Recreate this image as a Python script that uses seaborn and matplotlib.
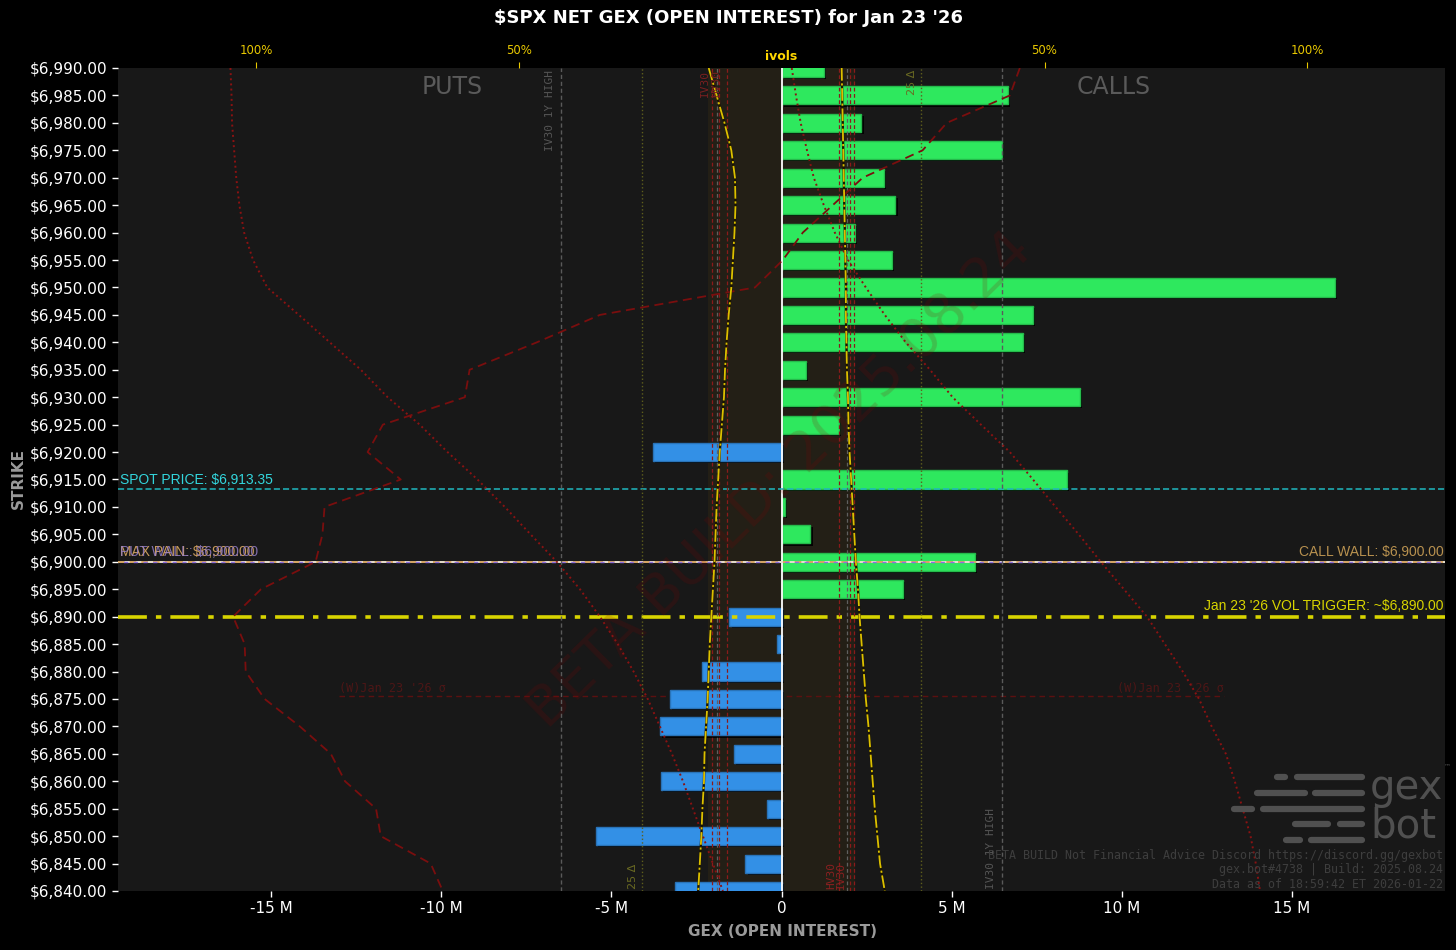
import numpy as np
import pandas as pd
import matplotlib
matplotlib.use("Agg")
import matplotlib.pyplot as plt
import seaborn as sns
from matplotlib import patheffects as pe
from matplotlib.transforms import blended_transform_factory
from matplotlib.patches import Rectangle
from matplotlib.lines import Line2D

# ---------------- data ----------------
strikes = list(range(6990, 6835, -5))
gex_m = [1.26, 6.65, 2.35, 6.47, 3.00, 3.35, 2.15, 3.24, 16.26, 7.38, 7.09, 0.71,
         8.76, 1.68, -3.79, 8.38, 0.09, 0.85, 5.68, 3.56, -1.53, -0.12, -2.35,
         -3.29, -3.56, -1.41, -3.53, -0.44, -5.44, -1.06, -3.12]

# implied vols per strike (percent), puts drawn mirrored on the left
put_iv = [13.9, 12.4, 10.9, 9.6, 8.9, 8.8, 9.0, 9.3, 9.6, 10.1, 10.5, 10.8, 11.0,
          11.4, 11.8, 12.1, 12.4, 12.6, 12.8, 13.1, 13.4, 13.7, 13.9, 14.1, 14.4,
          14.7, 14.8, 15.1, 15.3, 15.6, 15.9]
call_iv = [11.4, 11.5, 11.6, 11.7, 11.8, 11.9, 12.0, 12.1, 12.2, 12.2, 12.3, 12.4,
           12.6, 12.7, 12.9, 13.2, 13.5, 13.8, 14.1, 14.5, 14.8, 15.2, 15.6, 16.0,
           16.5, 16.9, 17.3, 17.7, 18.2, 18.7, 19.6]
ref_dashed = [45.3, 43.4, 31.4, 26.8, 15.4, 9.7, 4.0, 0.2, -5.1, -34.6, -46.6,
              -59.4, -60.3, -75.9, -78.8, -72.5, -87.0, -87.4, -88.7, -99.1,
              -104.4, -102.2, -102.0, -98.4, -91.7, -85.8, -83.1, -77.2, -76.3,
              -66.8, -64.5]
put_dotted = [-104.9, -104.7, -104.6, -104.2, -103.8, -103.2, -102.3, -100.6,
              -97.9, -91.9, -86.0, -80.1, -75.0, -68.9, -63.6, -57.9, -52.7,
              -47.8, -42.8, -38.4, -34.6, -31.2, -28.2, -25.5, -23.2, -20.9,
              -18.8, -16.9, -15.0, -13.1, -11.2]
call_dotted = [1.9, 2.7, 3.6, 4.8, 6.1, 8.0, 10.1, 12.6, 16.0, 19.6, 23.6, 28.2,
               32.5, 37.9, 43.4, 47.8, 52.1, 56.5, 60.7, 65.1, 69.5, 72.9, 76.3,
               79.4, 81.8, 84.5, 86.2, 87.7, 89.2, 90.2, 91.0]

spot = 6913.35
wall = 6900.0
vol_trigger = 6890.0
sigma_low = 6875.5
sigma_span_m = 13.0
iv30_1y_high = 42.0
delta25 = 26.5
iv_band = 14.0
iv_lines_red = [-13.3, -12.0, -10.5, 10.8, 12.9, 13.7]
iv_lines_grey = [-12.4, 12.4]

gex_ticks = [-15, -10, -5, 0, 5, 10, 15]
gex_tick_labels = ["-15 M", "-10 M", "-5 M", "0", "5 M", "10 M", "15 M"]
ivol_ticks = [-100, -50, 50, 100]
ivol_tick_labels = ["100%", "50%", "50%", "100%"]
strike_labels = [f"${s:,.2f}" for s in strikes]

# ---------------- figure ----------------
sns.set_style("dark")
plt.rcParams["font.family"] = ["DejaVu Sans"]
W, H = 1456, 950
fig = plt.figure(figsize=(W / 100, H / 100), dpi=100, facecolor="black")


def fp(x, y):
    return x / W, 1 - y / H


ax = fig.add_axes([118 / W, 1 - 891 / H, 1327 / W, 823 / H])
ax.set_facecolor("#181818")
ax.grid(False)

df = pd.DataFrame({"strike": strikes, "gex": gex_m})
df["side"] = np.where(df["gex"] >= 0, "call", "put")
sns.barplot(data=df, x="gex", y="strike", hue="side",
            palette={"call": "#2ee85e", "put": "#3390e6"}, orient="y",
            native_scale=True, width=0.66, dodge=False, legend=False,
            errorbar=None, saturation=1, ax=ax, zorder=3)
for p in ax.patches:
    fc = p.get_facecolor()
    p.set_edgecolor((fc[0] * 0.8, fc[1] * 0.8, fc[2] * 0.8, 1))
    p.set_linewidth(1.0)
    p.set_path_effects([pe.SimplePatchShadow(offset=(1.5, -1.5), shadow_rgbFace="black", alpha=0.9),
                        pe.Normal()])

ax.set_xlim(-19.5, 19.5)
ax.set_ylim(6840, 6990)
ax.set_yticks(strikes)
ax.set_yticklabels(strike_labels)
ax.set_xticks(gex_ticks)
ax.set_xticklabels(gex_tick_labels)
ax.tick_params(axis="both", colors="white", labelsize=11, length=4, width=1,
               bottom=True, left=True)
ax.set_xlabel("")
ax.set_ylabel("")
for s in ax.spines.values():
    s.set_visible(False)

# ivol axis
ax2 = ax.twiny()
ax2.set_xlim(-126.3, 126.2)
ax2.set_ylim(6840, 6990)
ax2.grid(False)
for s in ax2.spines.values():
    s.set_visible(False)
ax2.set_xticks(ivol_ticks)
ax2.set_xticklabels(ivol_tick_labels)
ax2.tick_params(axis="x", colors="#e8c800", labelsize=8.5, length=4, pad=4)
ax2.text(0.5, 1.006, "ivols", transform=ax2.transAxes, ha="center", va="bottom",
         fontsize=9, weight="bold", color="#ffd700")

# shaded implied-move band (behind bars)
band_tr = blended_transform_factory(ax2.transData, ax.transAxes)
ax.add_patch(Rectangle((-iv_band, 0), 2 * iv_band, 1, transform=band_tr,
                       facecolor="#231f16", edgecolor="none", zorder=0.5))

# vertical reference lines
for x in iv_lines_red:
    ax2.axvline(x, color="#8b1a1a", ls=(0, (3, 2)), lw=0.9)
for x in iv_lines_grey:
    ax2.axvline(x, color="#606060", ls=(0, (3, 2)), lw=0.9)
for x in (-iv30_1y_high, iv30_1y_high):
    ax2.axvline(x, color="#5a5a5a", ls=(0, (3, 2)), lw=1.0)
for x in (-delta25, delta25):
    ax2.axvline(x, color="#5e5e1c", ls=":", lw=1.0)

mono = "DejaVu Sans Mono"
ax2.text(-iv30_1y_high - 1.2, 6989.6, "IV30 1Y HIGH", rotation=90, ha="right", va="top",
         fontsize=8, color="#555555", family=mono)
ax2.text(iv30_1y_high - 1.2, 6840.3, "IV30 1Y HIGH", rotation=90, ha="right", va="bottom",
         fontsize=8, color="#555555", family=mono)
ax2.text(-13.6, 6989.6, "IV30", rotation=90, ha="right", va="top", fontsize=8,
         color="#7a2020", family=mono)
ax2.text(-11.6, 6989.6, "HV30", rotation=90, ha="right", va="top", fontsize=8,
         color="#7a2020", family=mono)
ax2.text(10.4, 6840.3, "HV30", rotation=90, ha="right", va="bottom", fontsize=8,
         color="#8b2020", family=mono)
ax2.text(12.2, 6840.3, "IV30", rotation=90, ha="right", va="bottom", fontsize=8,
         color="#8b2020", family=mono)
ax2.text(delta25 - 0.8, 6989.6, "25 Δ", rotation=90, ha="right", va="top", fontsize=8,
         color="#6a6a22")
ax2.text(-delta25 - 0.8, 6840.3, "25 Δ", rotation=90, ha="right", va="bottom", fontsize=8,
         color="#6a6a22")

# curves
ax2.plot(ref_dashed, strikes, color="#7a0e0e", ls=(0, (5, 3)), lw=1.3)
ax2.plot(put_dotted, strikes, color="#8b1212", ls=":", lw=1.4)
ax2.plot(call_dotted, strikes, color="#8b1212", ls=":", lw=1.4)
for iv in (-np.array(put_iv), np.array(call_iv)):
    ax2.plot(iv, strikes, color="#1a1500", lw=1.7)
    ax2.plot(iv, strikes, color="#dcc000", ls=(0, (7, 1.5, 1.2, 1.5)), lw=1.3)

# center line
ax.axvline(0, color="white", lw=1.3, zorder=4)

# horizontal levels
lab = "Liberation Sans"
ax.axhline(spot, color="#1fb8c0", ls=(0, (4, 2)), lw=1.1, zorder=5)
ax.text(-19.45, spot + 0.3, "SPOT PRICE: $6,913.35", ha="left", va="bottom",
        fontsize=10, color="#33d6dd", family=lab, zorder=6)

ax.axhline(wall, color="#e8e0d0", lw=1.4, zorder=5)
ax.axhline(wall, color="#d09a50", ls=(0, (4, 3)), lw=1.2, zorder=5)
ax.axhline(wall, color="#9070e0", ls=(3, (3, 4)), lw=1.0, zorder=5)
ax.text(-19.45, wall + 0.5, "MAX PAIN: $6,900.00", ha="left", va="bottom",
        fontsize=10, color="#c89a5a", family=lab, zorder=6)
ax.text(-19.45, wall + 0.5, "PUT WALL: $6,900.00", ha="left", va="bottom",
        fontsize=10, color="#9a82d0", family=lab, zorder=6, alpha=0.8)
ax.text(19.45, wall + 0.5, "CALL WALL: $6,900.00", ha="right", va="bottom",
        fontsize=10, color="#b8914f", family=lab, zorder=6)

ax.axhline(vol_trigger, color="#d8d400", ls=(0, (8, 2.5, 1.5, 2.5)), lw=2.6, zorder=5)
ax.text(19.45, vol_trigger + 0.6, "Jan 23 '26 VOL TRIGGER: ~$6,890.00", ha="right",
        va="bottom", fontsize=10, color="#d8d400", family=lab, zorder=6)

ax.hlines(sigma_low, -sigma_span_m, sigma_span_m, colors="#5c1010",
          linestyles=(0, (4, 3)), lw=1.0, zorder=2)
ax.text(-sigma_span_m, sigma_low + 0.3, "(W)Jan 23 '26 σ", ha="left", va="bottom",
        fontsize=8.5, color="#4d1616", family=mono, zorder=2)
ax.text(sigma_span_m, sigma_low + 0.3, "(W)Jan 23 '26 σ", ha="right", va="bottom",
        fontsize=8.5, color="#4d1616", family=mono, zorder=2)

# PUTS / CALLS
ax.text(0.2517, 0.977, "PUTS", transform=ax.transAxes, ha="center", va="center",
        fontsize=17, color="#5a5a5a")
ax.text(0.7506, 0.977, "CALLS", transform=ax.transAxes, ha="center", va="center",
        fontsize=17, color="#5a5a5a")

# watermark
ax2.text(0.499, 0.4994, "BETA BUILD: 2025.08.24", transform=ax.transAxes,
         rotation=44.5, fontsize=40, color="#8b0000", alpha=0.17, ha="center",
         va="center", zorder=1)

# titles
fig.text(*fp(728, 18), "$SPX NET GEX (OPEN INTEREST) for Jan 23 '26", ha="center",
         va="center", fontsize=13, weight="bold", color="white")
fig.text(*fp(782, 932), "GEX (OPEN INTEREST)", ha="center", va="center",
         fontsize=11, weight="bold", color="#9a9a9a")
fig.text(*fp(18, 479), "STRIKE", ha="center", va="center", rotation=90,
         fontsize=11, weight="bold", color="#9a9a9a")

# logo
logo_c = "#505050"
segs = [(777, [(1277, 1285), (1297, 1362)]),
        (793, [(1257, 1305), (1315, 1362)]),
        (809, [(1234, 1252), (1263, 1362)]),
        (824, [(1295, 1328), (1340, 1362)]),
        (840, [(1286, 1300), (1311, 1362)])]
for yy, pieces in segs:
    for x0, x1 in pieces:
        (fx0, fy), (fx1, _) = fp(x0, yy), fp(x1, yy)
        fig.add_artist(Line2D([fx0, fx1], [fy, fy], color=logo_c, lw=4.5,
                              solid_capstyle="round"))
fig.text(*fp(1370, 788), "gex", ha="left", va="center", fontsize=29, color=logo_c)
fig.text(*fp(1370, 826), "bot", ha="left", va="center", fontsize=29, color=logo_c)
fig.text(*fp(1444, 766), "™", ha="left", va="center", fontsize=5, color=logo_c)

foot_c = "#3e3e3e"
fig.text(*fp(1443, 855), "BETA BUILD Not Financial Advice Discord https://discord.gg/gexbot",
         ha="right", va="center", fontsize=8.4, color=foot_c, family=mono)
fig.text(*fp(1443, 870), "gex.bot#4738 | Build: 2025.08.24",
         ha="right", va="center", fontsize=8.4, color=foot_c, family=mono)
fig.text(*fp(1443, 884), "Data as of 18:59:42 ET 2026-01-22",
         ha="right", va="center", fontsize=8.4, color=foot_c, family=mono)

fig.savefig("out.png", dpi=100, facecolor="black")
